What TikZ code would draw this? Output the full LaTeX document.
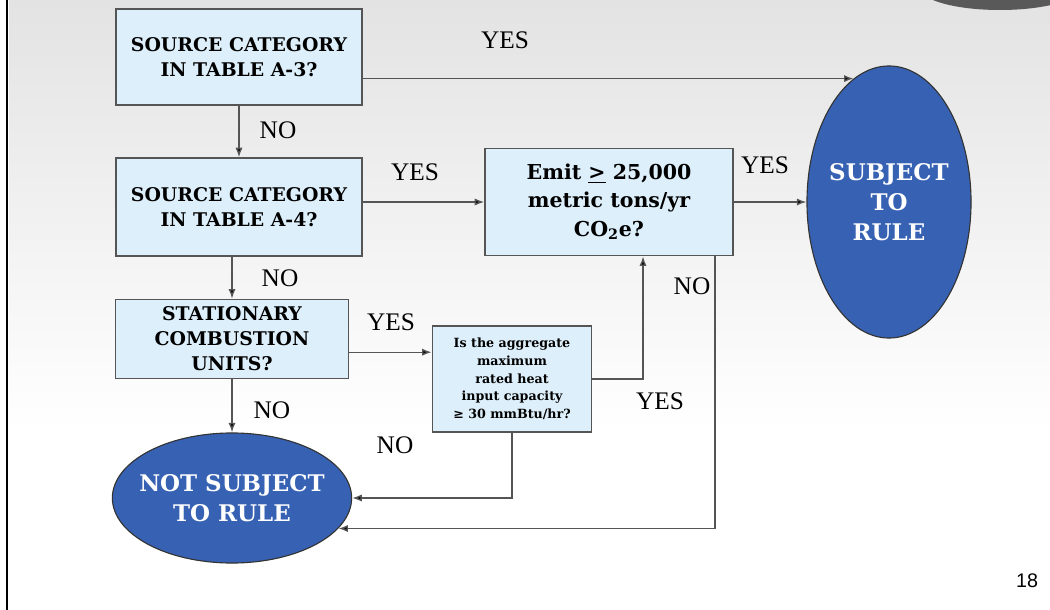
\documentclass[tikz,border=0pt]{standalone}
\usepackage{fontspec}
\setmainfont{Liberation Serif}
\newfontfamily\boxfont{DejaVu Serif}
\newfontfamily\pagenumfont{Liberation Sans}
\usetikzlibrary{shapes.geometric,arrows.meta}
\definecolor{boxfill}{RGB}{221,239,250}
\definecolor{ovalfill}{RGB}{55,98,180}
\definecolor{linegray}{RGB}{85,85,85}

\begin{document}
\begin{tikzpicture}
[x=0.025cm,y=-0.025cm,
 boxdecorate/.style={shape=rectangle,draw=linegray,line width=1pt,fill=boxfill,
   align=center,inner sep=0pt,font=\boxfont\fontsize{13.4pt}{17.7pt}\selectfont\bfseries},
 ovaldecorate/.style={shape=ellipse,draw=black!80,line width=0.8pt,fill=ovalfill,
   text=white,align=center,inner sep=-5mm,font=\boxfont\fontsize{16.3pt}{21.5pt}\selectfont\bfseries},
 linedecorate/.style={draw=linegray,line width=1pt,-{Latex[length=2.4mm,width=1.8mm,fill=black]}},
 labeldecorate/.style={font=\fontsize{18pt}{20pt}\selectfont}]
\useasboundingbox (0,0) rectangle (1050,610);
%% slide background
\shade[top color=black!11,bottom color=white] (9,0) rectangle (1050,430);
\begin{scope}
  \clip (0,0) rectangle (1050,610);
  \fill[black!65] (1000,-12) ellipse [x radius=2cm,y radius=0.55cm];
\end{scope}
\draw[line width=1.5pt] (7,0) -- (7,610);
%% nodes
\node (a3) at (239,57) [boxdecorate,minimum width=6.15cm,minimum height=2.4cm]
  {SOURCE CATEGORY\\IN TABLE A-3?};
\node (a4) at (239,207) [boxdecorate,minimum width=6.15cm,minimum height=2.45cm]
  {SOURCE CATEGORY\\IN TABLE A-4?};
\node (stat) at (232,339) [boxdecorate,minimum width=5.83cm,minimum height=1.98cm]
  {STATIONARY\\COMBUSTION\\UNITS?};
\node (heat) at (512,379) [boxdecorate,minimum width=3.98cm,minimum height=2.65cm,
  font=\boxfont\fontsize{9pt}{12.6pt}\selectfont\bfseries]
  {Is the aggregate\\maximum\\rated heat\\input capacity\\≥ 30 mmBtu/hr?};
\node (emit) at (609,202) [boxdecorate,minimum width=6.2cm,minimum height=2.68cm,
  font=\boxfont\fontsize{14.6pt}{20pt}\selectfont\bfseries]
  {Emit \underline{>} 25,000\\metric tons/yr\\CO\textsubscript{2}e?};
\node (subj) at (889,202) [ovaldecorate,minimum width=4.1cm,minimum height=6.8cm]
  {SUBJECT\\TO\\RULE};
\node (notsubj) at (232,498) [ovaldecorate,minimum width=5.98cm,minimum height=3.25cm]
  {NOT SUBJECT\\TO RULE};
%% labels
\foreach \x/\y/\txt [count=\i] in {505/40/YES, 278/130/NO, 415/172/YES,
  765/165/YES, 280/278/NO, 692/286/NO, 391/322/YES, 660/401/YES,
  272/410/NO, 395/445/NO} {
  \node[labeldecorate] (lab\i) at (\x,\y) {\txt};
}
\node[font=\pagenumfont\fontsize{14pt}{16pt}\selectfont] (pagenum) at (1027,581) {18};
%% connectors
\draw[linedecorate] (a3.south) -- (a4.north);
\draw[linedecorate] (stat.north |- a4.south) -- (stat.north);
\draw[linedecorate] (stat.south) -- (notsubj.north);
\draw[linedecorate] (a3.east |- subj.106) -- (subj.106);
\draw[linedecorate] (a4.east |- emit.west) -- (emit.west);
\draw[linedecorate] (emit.east) -- (subj.west);
\draw[linedecorate] ([yshift=-3.3mm]stat.east) -- ([yshift=-3.3mm]stat.east -| heat.west);
\draw[linedecorate] (heat.south) |- (notsubj.east);
\draw[linedecorate] (heat.east) -| ([xshift=8.5mm]emit.south);
\draw[linedecorate] ([xshift=26.5mm]emit.south) |- (notsubj.-16);
\end{tikzpicture}
\end{document}
